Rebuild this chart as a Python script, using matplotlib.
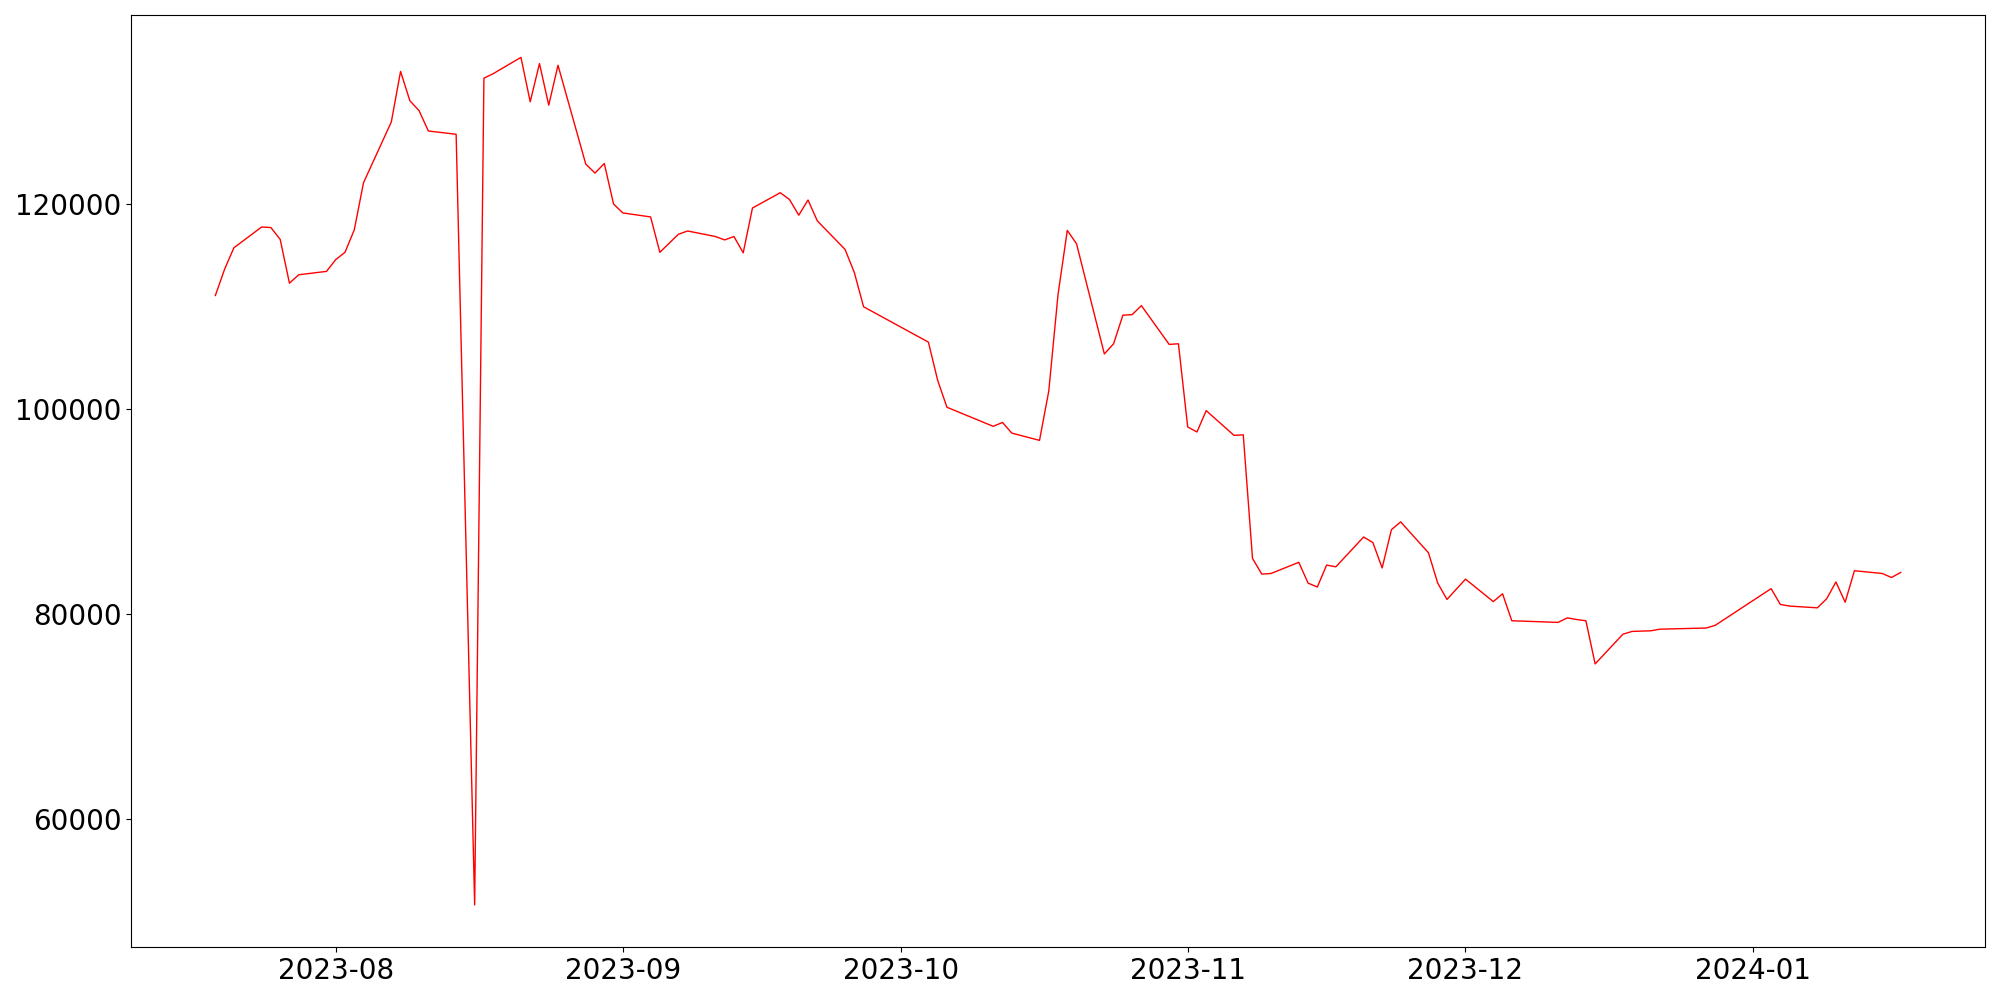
import matplotlib
matplotlib.use("Agg")
import matplotlib.pyplot as plt
import pandas as pd

dates = [
    "2023-07-19", "2023-07-20", "2023-07-21", "2023-07-24", "2023-07-25",
    "2023-07-26", "2023-07-27", "2023-07-28", "2023-07-31", "2023-08-01",
    "2023-08-02", "2023-08-03", "2023-08-04", "2023-08-07", "2023-08-08",
    "2023-08-09", "2023-08-10", "2023-08-11", "2023-08-14", "2023-08-16",
    "2023-08-17", "2023-08-18", "2023-08-21", "2023-08-22", "2023-08-23",
    "2023-08-24", "2023-08-25", "2023-08-28", "2023-08-29", "2023-08-30",
    "2023-08-31", "2023-09-01", "2023-09-04", "2023-09-05", "2023-09-06",
    "2023-09-07", "2023-09-08", "2023-09-11", "2023-09-12", "2023-09-13",
    "2023-09-14", "2023-09-15", "2023-09-18", "2023-09-19", "2023-09-20",
    "2023-09-21", "2023-09-22", "2023-09-25", "2023-09-26", "2023-09-27",
    "2023-10-04", "2023-10-05", "2023-10-06", "2023-10-11", "2023-10-12",
    "2023-10-13", "2023-10-16", "2023-10-17", "2023-10-18", "2023-10-19",
    "2023-10-20", "2023-10-23", "2023-10-24", "2023-10-25", "2023-10-26",
    "2023-10-27", "2023-10-30", "2023-10-31", "2023-11-01", "2023-11-02",
    "2023-11-03", "2023-11-06", "2023-11-07", "2023-11-08", "2023-11-09",
    "2023-11-10", "2023-11-13", "2023-11-14", "2023-11-15", "2023-11-16",
    "2023-11-17", "2023-11-20", "2023-11-21", "2023-11-22", "2023-11-23",
    "2023-11-24", "2023-11-27", "2023-11-28", "2023-11-29", "2023-12-01",
    "2023-12-04", "2023-12-05", "2023-12-06", "2023-12-11", "2023-12-12",
    "2023-12-13", "2023-12-14", "2023-12-15", "2023-12-18", "2023-12-19",
    "2023-12-20", "2023-12-21", "2023-12-22", "2023-12-27", "2023-12-28",
    "2024-01-03", "2024-01-04", "2024-01-05", "2024-01-08", "2024-01-09",
    "2024-01-10", "2024-01-11", "2024-01-12", "2024-01-15", "2024-01-16",
    "2024-01-17",
]

values = [
    111100, 113670, 115750, 117780, 117720,
    116570, 112300, 113120, 113450, 114600,
    115310, 117500, 122100, 128020, 132950,
    130100, 129120, 127140, 126820, 51670,
    132290, 132730, 134320, 129990, 133720,
    129660, 133550, 123910, 123040, 123970,
    120020, 119150, 118760, 115310, 116190,
    117070, 117390, 116850, 116520, 116850,
    115260, 119630, 121120, 120460, 118930,
    120410, 118380, 115590, 113340, 110000,
    106550, 102830, 100200, 98340, 98720,
    97680, 96970, 101790, 111210, 117450,
    116130, 105400, 106390, 109180, 109230,
    110110, 106330, 106390, 98280, 97790,
    99870, 97460, 97510, 85460, 83930,
    83990, 85080, 83050, 82670, 84810,
    84640, 87550, 87000, 84530, 88260,
    89020, 86010, 83050, 81460, 83440,
    81250, 82010, 79380, 79220, 79660,
    79500, 79380, 75170, 78070, 78340,
    78370, 78400, 78560, 78670, 78950,
    82510, 80970, 80810, 80640, 81520,
    83160, 81190, 84260, 83990, 83600,
    84090,
]

x = pd.to_datetime(dates)

fig, ax = plt.subplots(figsize=(20, 10), dpi=100)
ax.plot(x, values, color="red", linewidth=1.0)
ax.tick_params(axis="both", labelsize=20)

fig.tight_layout()
fig.savefig("out.png", dpi=100)
